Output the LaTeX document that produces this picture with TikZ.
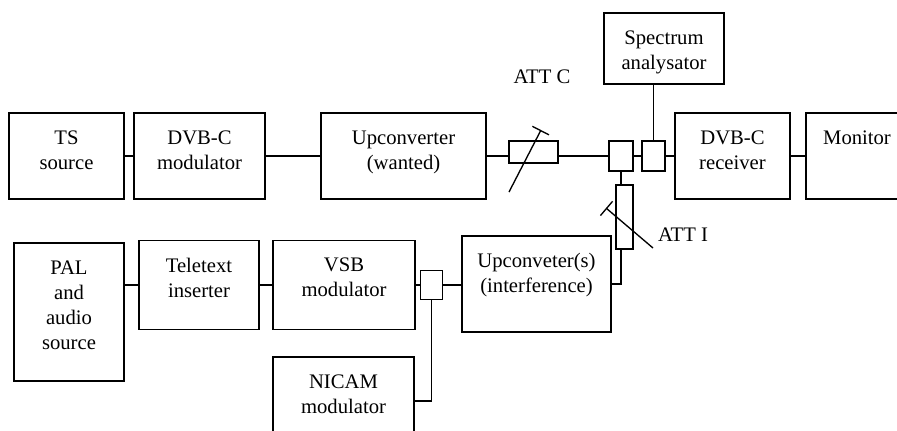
\documentclass[tikz,border=0pt]{standalone}
\usepackage{fontspec}
\setmainfont{Liberation Serif}
\usetikzlibrary{arrows.meta}

\begin{document}
\begin{tikzpicture}[x=0.75pt,y=0.75pt,yscale=-1,xscale=1,
  font=\fontsize{15.5}{18.75}\selectfont,
  blk/.style={draw, line width=1.1pt, inner sep=0pt, minimum height=64.5pt},
  sml/.style={draw, line width=1.1pt, inner sep=0pt},
  txt/.style={anchor=north, align=center, inner sep=0pt, yshift=-13.5pt},
  wire/.style={line width=0.8pt},
  attslash/.style={line width=1pt, -{Bar[width=14pt,line width=1pt]}}]
\useasboundingbox (0,0) rectangle (897,430);

%Shape: Rectangle [id:ts]
\node[blk, minimum width=86.25pt, label={[txt]north:TS\\source}] (ts) at (66.5,156) {};
%Shape: Rectangle [id:dvbmod]
\node[blk, minimum width=98.25pt, label={[txt]north:DVB-C\\modulator}] (dvbmod) at (199.5,156) {};
%Shape: Rectangle [id:upw]
\node[blk, minimum width=123.75pt, label={[txt]north:Upconverter\\(wanted)}] (upw) at (403.5,156) {};
%Shape: Rectangle [id:attc]
\node[sml, minimum width=36.75pt, minimum height=16.5pt] (attc) at (533.5,152) {};
%Shape: Rectangle [id:cmb1]
\node[sml, minimum width=18pt, minimum height=22.5pt] (cmb1) at (621,156) {};
%Shape: Rectangle [id:cmb2]
\node[sml, minimum width=17.25pt, minimum height=22.5pt] (cmb2) at (653.5,156) {};
%Shape: Rectangle [id:rx]
\node[blk, minimum width=86.25pt, label={[txt]north:DVB-C\\receiver}] (rx) at (732.5,156) {};
%Shape: Rectangle [id:mon]
\node[blk, minimum width=76.5pt, label={[txt]north:Monitor}] (mon) at (857,156) {};
%Shape: Rectangle [id:spec]
\node[blk, minimum width=90pt, minimum height=53.25pt, label={[txt]north:Spectrum\\analysator}] (spec) at (664,48.5) {};

%Shape: Rectangle [id:pal]
\node[blk, minimum width=82.5pt, minimum height=103.5pt, label={[txt]north:PAL\\and\\audio\\source}] (pal) at (69,312) {};
%Shape: Rectangle [id:ttx]
\node[blk, minimum width=90pt, minimum height=66.75pt, label={[txt]north:Teletext\\inserter}] (ttx) at (199,285) {};
%Shape: Rectangle [id:vsb]
\node[blk, minimum width=106.5pt, minimum height=66.75pt, label={[txt]north:VSB\\modulator}] (vsb) at (344,285) {};
%Shape: Rectangle [id:cmb3]
\node[sml, minimum width=16.5pt, minimum height=21.75pt] (cmb3) at (431.5,285) {};
%Shape: Rectangle [id:upi]
\node[blk, minimum width=111.75pt, minimum height=72pt, label={[txt]north:Upconveter(s)\\(interference)}] (upi) at (536.5,284) {};
%Shape: Rectangle [id:atti]
\node[sml, minimum width=12.75pt, minimum height=48pt] (atti) at (624.5,217) {};
%Shape: Rectangle [id:nicam]
\node[blk, minimum width=105.75pt, minimum height=66pt, label={[txt]north:NICAM\\modulator}] (nicam) at (343.5,401) {};

%Straight Lines
\draw[wire] (ts) -- (dvbmod);
\draw[wire] (dvbmod) -- (upw);
\draw[wire] (upw.east) -- (upw.east -| attc.west);
\draw[wire] (attc.east |- cmb1.west) -- (cmb1.west);
\draw[wire] (cmb1) -- (cmb2);
\draw[wire] (cmb2) -- (rx);
\draw[wire] (rx) -- (mon);
\draw[wire] (cmb2.north) -- (cmb2.north |- spec.south);
\draw[wire] (cmb1.south) -- (cmb1.south |- atti.north);
\draw[wire] (cmb1.south |- atti.south) -- (cmb1.south |- upi.east) -- (upi.east);
\draw[wire] (pal.east |- ttx.west) -- (ttx.west);
\draw[wire] (ttx) -- (vsb);
\draw[wire] (vsb) -- (cmb3);
\draw[wire] (cmb3.east) -- (cmb3.east -| upi.west);
\draw[wire] (cmb3.south) -- (cmb3.south |- nicam.east) -- (nicam.east);

%Attenuator slashes
\draw[attslash] (509,192) -- (541,130);
\draw[attslash] (653,248) -- (606,208);

% Text Node
\node (attclbl) at (542,77) {ATT C};
% Text Node
\node (attilbl) at (683,234.5) {ATT I};

\end{tikzpicture}
\end{document}
